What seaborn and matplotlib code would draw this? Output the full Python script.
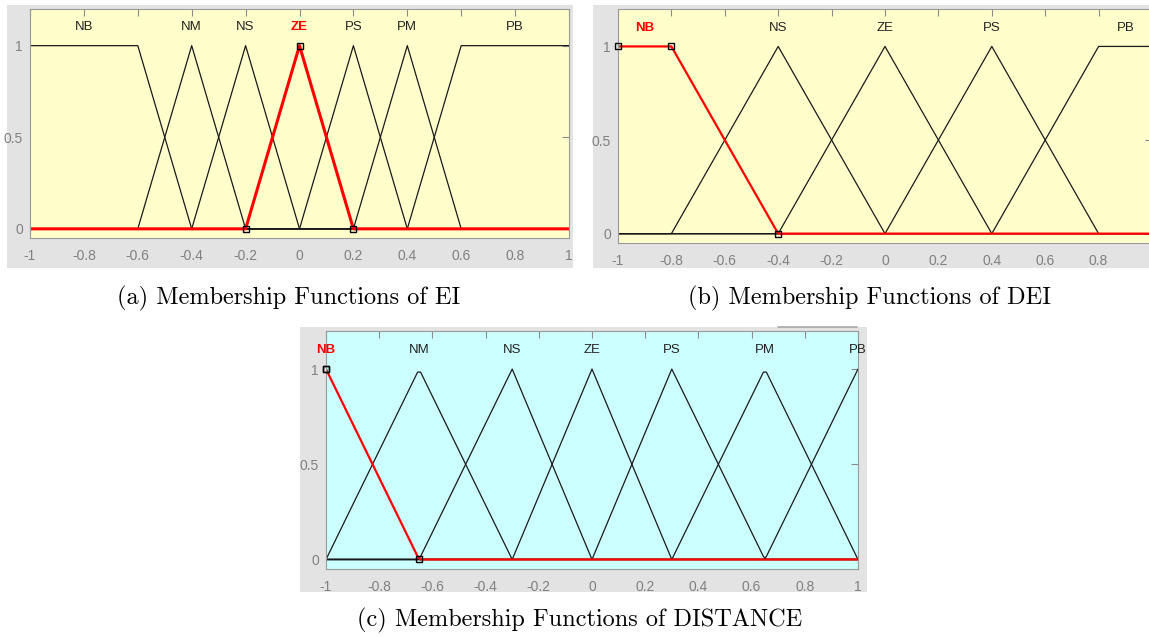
import numpy as np
import pandas as pd
import matplotlib
matplotlib.use("Agg")
import matplotlib.pyplot as plt
from matplotlib.patches import Rectangle
from matplotlib.lines import Line2D
import seaborn as sns

# ---- membership function definitions ------------------------------------
EI_NAMES = ["NB", "NM", "NS", "ZE", "PS", "PM", "PB"]
EI_TYPES = ["trap", "tri", "tri", "tri", "tri", "tri", "trap"]
EI_PARAMS = [[-1.4, -1.0, -0.6, -0.4],
             [-0.6, -0.4, -0.2],
             [-0.4, -0.2, 0.0],
             [-0.2, 0.0, 0.2],
             [0.0, 0.2, 0.4],
             [0.2, 0.4, 0.6],
             [0.4, 0.6, 1.0, 1.4]]
EI_ACTIVE = "ZE"

DEI_NAMES = ["NB", "NS", "ZE", "PS", "PB"]
DEI_TYPES = ["trap", "tri", "tri", "tri", "trap"]
DEI_PARAMS = [[-1.2, -1.0, -0.8, -0.4],
              [-0.8, -0.4, 0.0],
              [-0.4, 0.0, 0.4],
              [0.0, 0.4, 0.8],
              [0.4, 0.8, 1.0, 1.2]]
DEI_ACTIVE = "NB"

DIST_NAMES = ["NB", "NM", "NS", "ZE", "PS", "PM", "PB"]
DIST_TYPES = ["tri"] * 7
DIST_PARAMS = [[-1.0, -1.0, -0.65],
               [-1.0, -0.65, -0.3],
               [-0.65, -0.3, 0.0],
               [-0.3, 0.0, 0.3],
               [0.0, 0.3, 0.65],
               [0.3, 0.65, 1.0],
               [0.65, 1.0, 1.0]]
DIST_ACTIVE = "NB"

X_TICKS = [-1, -0.8, -0.6, -0.4, -0.2, 0, 0.2, 0.4, 0.6, 0.8, 1]
X_TICK_LABELS = ["-1", "-0.8", "-0.6", "-0.4", "-0.2", "0", "0.2", "0.4", "0.6", "0.8", "1"]
Y_TICKS = [0, 0.5, 1]
Y_TICK_LABELS = ["0", "0.5", "1"]

CAPTIONS = ["(a) Membership Functions of EI",
            "(b) Membership Functions of DEI",
            "(c) Membership Functions of DISTANCE"]

N_POINTS = 181


def trimf(x, a, b, c):
    y = np.zeros_like(x)
    if b > a:
        m = (x > a) & (x < b)
        y[m] = (x[m] - a) / (b - a)
    if c > b:
        m = (x > b) & (x < c)
        y[m] = (c - x[m]) / (c - b)
    y[np.isclose(x, b)] = 1.0
    return y


def trapmf(x, a, b, c, d):
    up = np.where(x >= b, 1.0, np.where(x <= a, 0.0, (x - a) / max(b - a, 1e-12)))
    down = np.where(x <= c, 1.0, np.where(x >= d, 0.0, (d - x) / max(d - c, 1e-12)))
    return np.minimum(up, down)


def evaluate(kind, p, x):
    return trimf(x, *p) if kind == "tri" else trapmf(x, *p)


def label_pos(kind, p):
    return p[1] if kind == "tri" else 0.5 * (p[1] + p[2])


# ---- figure geometry (pixels) -------------------------------------------
W, H = 1149, 637
sns.set_style("white")
plt.rcParams["axes.unicode_minus"] = False
SANS = ["Liberation Sans Narrow", "Liberation Sans", "DejaVu Sans"]
plt.rcParams["font.family"] = SANS

fig = plt.figure(figsize=(W / 100, H / 100), dpi=100)
fig.patch.set_facecolor("white")


def frac_rect(x0, y0, x1, y1):
    return [x0 / W, 1 - y1 / H, (x1 - x0) / W, (y1 - y0) / H]


def add_frame(x0, y0, x1, y1, color="#e3e3e3"):
    r = frac_rect(x0, y0, x1, y1)
    fig.add_artist(Rectangle((r[0], r[1]), r[2], r[3], transform=fig.transFigure,
                             facecolor=color, edgecolor="none", zorder=0))


panels = [
    dict(frame=(7, 5, 573, 268), axes=(30, 9, 569, 238), face="#ffffcc",
         names=EI_NAMES, types=EI_TYPES, params=EI_PARAMS, active=EI_ACTIVE,
         red_lw=2.2, caption_xy=(289, 298), last_label=True),
    dict(frame=(593, 5, 1160, 268), axes=(618, 9, 1152, 243), face="#ffffcc",
         names=DEI_NAMES, types=DEI_TYPES, params=DEI_PARAMS, active=DEI_ACTIVE,
         red_lw=1.6, caption_xy=(870, 298), last_label=False),
    dict(frame=(300, 327, 867, 592), axes=(326, 331, 858, 569), face="#ccffff",
         names=DIST_NAMES, types=DIST_TYPES, params=DIST_PARAMS, active=DIST_ACTIVE,
         red_lw=1.6, caption_xy=(580, 620), last_label=True),
]

x = np.linspace(-1, 1, N_POINTS)

for i, pn in enumerate(panels):
    add_frame(*pn["frame"])
    ax = fig.add_axes(frac_rect(*pn["axes"]))
    ax.set_facecolor(pn["face"])
    ax.set_zorder(1)

    rows = []
    for name, kind, p in zip(pn["names"], pn["types"], pn["params"]):
        y = evaluate(kind, p, x)
        rows.append(pd.DataFrame({"x": x, "y": y, "mf": name}))
    df = pd.concat(rows, ignore_index=True)

    others = df[df["mf"] != pn["active"]]
    sns.lineplot(data=others, x="x", y="y", units="mf", estimator=None, sort=False,
                 color="#1a1a1a", lw=0.9, ax=ax, legend=False)
    sel = df[df["mf"] == pn["active"]]
    sns.lineplot(data=sel, x="x", y="y", estimator=None, sort=False,
                 color="#ff0000", lw=pn["red_lw"], ax=ax, legend=False)

    # square handles on the selected function's break points
    k = pn["names"].index(pn["active"])
    kind, p = pn["types"][k], pn["params"][k]
    hx = np.array([v for v in p if -1 <= v <= 1])
    hy = evaluate(kind, p, hx)
    ax.plot(hx, hy, "s", ms=5, mfc="none", mec="black", mew=1.0, zorder=5, clip_on=False)

    for name, kind, p in zip(pn["names"], pn["types"], pn["params"]):
        active = name == pn["active"]
        ax.text(label_pos(kind, p), 1.10, name, ha="center", va="center",
                fontsize=9.5, color="#ff0000" if active else "#222222",
                fontweight="bold" if active else "normal", family=SANS)

    ax.set_xlim(-1, 1)
    ax.set_ylim(-0.05, 1.2)
    labels = list(X_TICK_LABELS)
    if not pn["last_label"]:
        labels[-1] = ""
    ax.set_xticks(X_TICKS, labels)
    ax.set_yticks(Y_TICKS, Y_TICK_LABELS)
    ax.set_xlabel("")
    ax.set_ylabel("")
    ax.tick_params(axis="both", direction="in", top=True, right=True, length=5,
                   width=0.8, color="#8a8a8a", labelcolor="#808080", labelsize=10)
    ax.tick_params(axis="x", pad=8)
    ax.tick_params(axis="y", pad=5)
    for s in ax.spines.values():
        s.set_color("#9a9a9a")
        s.set_linewidth(0.8)

    cx, cy = pn["caption_xy"]
    fig.text(cx / W, 1 - cy / H, CAPTIONS[i], ha="center", va="center",
             fontsize=17.5, family="cmr10", color="black")

# darker edge of the lower panel's outer border
fig.add_artist(Line2D([778 / W, 857 / W], [1 - 327 / H, 1 - 327 / H],
                      transform=fig.transFigure, color="#a8a8a8", lw=1.2))

fig.savefig("out.png", dpi=100, facecolor="white")
